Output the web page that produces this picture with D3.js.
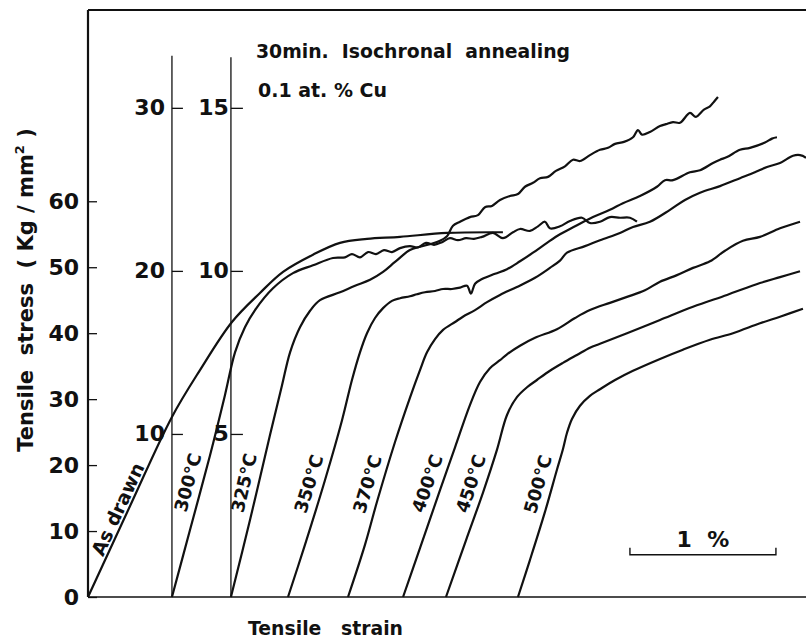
<!DOCTYPE html>
<html><head><meta charset="utf-8">
<script src="https://cdn.jsdelivr.net/npm/d3@7"></script>
<style>
html,body{margin:0;padding:0;background:#fff;}
text{font-family:"DejaVu Sans",sans-serif;fill:#111;white-space:pre;}
</style></head>
<body><svg id="chart" width="806" height="640"></svg>
<script>
// ---- data (strain in %, stress in kg/mm^2 on the main scale) ----
const curveNames = ["As drawn","300°C","325°C","350°C","370°C","400°C","450°C","500°C"];
const asDrawn = [[0,0],[0.288,13.8],[0.575,27.3],[0.767,34.4],[0.986,41.7],[1.178,46.1],[1.336,49.3],[1.541,51.9],[1.726,53.7],[1.911,54.3],[2.137,54.6],[2.459,55.2],[2.842,55.3]];
const c300 = [[0.575,0],[0.699,10.2],[0.836,21.5],[0.938,30.6],[1.007,37.1],[1.075,40.9],[1.144,43.5],[1.267,46.8],[1.404,49.1],[1.541,50.3],[1.678,51.4],[1.760,51.5],[1.808,52.0],[1.863,51.5],[1.918,52.3],[1.973,52.0],[2.027,52.6],[2.082,52.3],[2.137,52.9],[2.205,53.2],[2.260,53.0],[2.315,53.7],[2.370,53.4],[2.425,53.8],[2.479,54.4],[2.534,54.1],[2.589,54.4],[2.644,54.3],[2.699,54.6],[2.774,55.2],[2.842,54.4],[2.911,55.3],[2.959,55.8],[3.027,55.5],[3.082,56.2],[3.130,56.9],[3.164,55.9],[3.233,56.2],[3.301,57.0],[3.384,57.5],[3.438,56.7],[3.507,56.9],[3.575,57.6],[3.644,57.5],[3.712,57.5],[3.760,56.9]];
const c325 = [[0.979,0],[1.110,11.7],[1.247,24.6],[1.329,32.1],[1.384,37.1],[1.452,40.9],[1.521,43.4],[1.589,45.0],[1.726,46.2],[1.829,47.2],[1.932,48.1],[2.021,49.3],[2.103,50.8],[2.205,52.6],[2.274,53.1],[2.342,53.5],[2.411,54.0],[2.459,54.7],[2.500,56.3],[2.548,56.9],[2.616,57.6],[2.671,57.9],[2.719,59.1],[2.767,59.3],[2.822,60.2],[2.890,60.8],[2.945,61.1],[2.993,62.2],[3.048,62.8],[3.096,63.5],[3.151,63.7],[3.205,64.6],[3.267,65.3],[3.322,66.3],[3.370,66.1],[3.438,67.0],[3.507,67.8],[3.562,68.1],[3.610,68.7],[3.671,69.0],[3.733,69.7],[3.767,70.8],[3.795,70.1],[3.849,70.5],[3.918,71.4],[3.959,71.7],[4.007,72.0],[4.055,71.9],[4.123,73.4],[4.164,72.8],[4.219,73.9],[4.260,74.4],[4.288,75.1],[4.315,75.8]];
const c350 = [[1.370,0],[1.486,7.9],[1.623,17.7],[1.740,26.8],[1.808,32.9],[1.863,37.1],[1.911,40.0],[1.966,42.3],[2.021,43.8],[2.082,44.9],[2.137,45.3],[2.205,45.6],[2.253,45.9],[2.308,46.2],[2.377,46.4],[2.432,46.7],[2.493,46.7],[2.548,46.9],[2.596,47.2],[2.623,46.0],[2.651,47.5],[2.699,48.2],[2.788,49.0],[2.870,49.7],[2.959,50.9],[3.048,52.2],[3.144,53.7],[3.233,55.0],[3.336,56.2],[3.459,57.6],[3.575,58.7],[3.664,59.7],[3.781,60.8],[3.897,62.2],[3.952,63.2],[4.007,63.2],[4.123,64.4],[4.192,64.7],[4.281,65.8],[4.329,66.3],[4.377,66.7],[4.466,67.8],[4.534,68.1],[4.637,68.9],[4.685,69.5],[4.719,69.7]];
const c370 = [[1.781,0],[1.897,7.9],[1.979,14.4],[2.103,23.5],[2.205,30.2],[2.274,34.4],[2.322,37.1],[2.377,39.1],[2.432,40.5],[2.514,41.7],[2.568,42.5],[2.651,43.5],[2.733,44.7],[2.822,45.8],[2.938,47.0],[3.062,48.4],[3.164,49.9],[3.233,51.0],[3.281,52.2],[3.404,53.2],[3.507,54.1],[3.644,55.2],[3.733,56.1],[3.849,56.9],[3.986,58.7],[4.089,60.2],[4.192,61.3],[4.329,62.3],[4.466,63.5],[4.568,64.4],[4.651,65.2],[4.740,65.8],[4.829,66.9],[4.877,67.0],[4.918,66.6]];
const c400 = [[2.158,0],[2.274,7.4],[2.411,16.2],[2.514,22.7],[2.616,29.1],[2.685,32.6],[2.753,34.7],[2.822,35.9],[2.870,36.8],[2.959,38.1],[3.062,39.3],[3.212,40.6],[3.336,42.3],[3.438,43.5],[3.575,44.6],[3.692,45.5],[3.815,46.5],[3.918,47.8],[4.034,48.8],[4.144,49.9],[4.260,50.9],[4.363,52.5],[4.486,54.0],[4.603,54.6],[4.740,55.9],[4.877,56.9]];
const c450 = [[2.452,0],[2.589,8.6],[2.705,15.8],[2.801,22.3],[2.870,27.6],[2.938,30.3],[3.007,31.8],[3.075,32.9],[3.164,34.3],[3.253,35.5],[3.349,36.7],[3.438,37.8],[3.507,38.4],[3.692,40.0],[3.918,42.0],[4.144,44.0],[4.377,45.8],[4.603,47.6],[4.740,48.5],[4.877,49.4]];
const c500 = [[2.945,0],[3.027,5.6],[3.130,12.9],[3.212,19.3],[3.253,22.4],[3.281,24.9],[3.315,27.0],[3.370,29.0],[3.438,30.5],[3.507,31.5],[3.610,32.9],[3.733,34.3],[3.918,36.1],[4.075,37.5],[4.260,39.0],[4.418,40.0],[4.603,41.5],[4.740,42.5],[4.897,43.7]];
const curves = [asDrawn,c300,c325,c350,c370,c400,c450,c500];
const labelStress = [12.7,16.8,16.8,16.5,16.5,16.5,16.5,16.5];
const mainTicks = [0,10,20,30,40,50,60];
const ticks300 = [10,20,30];
const ticks325 = [5,10,15];

// ---- chart ----
const svg = d3.select("#chart");
const W = 806, H = 640;
const m = {left:88, top:10, right:0, bottom:43};
const x = d3.scaleLinear().domain([0,4.918]).range([m.left, W-m.right]);
const y = d3.scaleLinear().domain([0,89]).range([H-m.bottom, m.top]);
const y300 = d3.scaleLinear().domain([0,36]).range([H-m.bottom, m.top]);
const y325 = d3.scaleLinear().domain([0,18]).range([H-m.bottom, m.top]);

// frame
svg.append("line").attr("x1",x(0)).attr("x2",x(4.918)).attr("y1",y(89)).attr("y2",y(89)).attr("stroke","#111").attr("stroke-width",2.2);
svg.append("line").attr("x1",x(0)).attr("x2",x(4.918)).attr("y1",y(0)).attr("y2",y(0)).attr("stroke","#111").attr("stroke-width",1.6);
svg.append("line").attr("x1",x(0)).attr("x2",x(0)).attr("y1",y(0)).attr("y2",y(89)).attr("stroke","#111").attr("stroke-width",2.2);

function styleAxis(g){
  g.select(".domain").remove();
  g.selectAll(".tick line").attr("stroke","#111").attr("stroke-width",1.3);
  g.selectAll(".tick text").attr("font-size",22).attr("font-weight","bold").attr("fill","#111").attr("font-family","DejaVu Sans");
}
// main stress axis
svg.append("g").attr("transform",`translate(${x(0)},0)`)
  .call(d3.axisLeft(y).tickValues(mainTicks).tickSize(-9).tickPadding(9).tickFormat(d3.format("d")))
  .call(styleAxis);

// secondary axes at the start of the 300°C and 325°C curves
const ax2 = x(c300[0][0]), ax3 = x(c325[0][0]);
svg.append("line").attr("x1",ax2).attr("x2",ax2).attr("y1",y300(0)).attr("y2",y300(33.2)).attr("stroke","#111").attr("stroke-width",1.3);
svg.append("g").attr("transform",`translate(${ax2},0)`)
  .call(d3.axisLeft(y300).tickValues(ticks300).tickSize(-11).tickPadding(7).tickFormat(d3.format("d")))
  .call(styleAxis);
svg.append("line").attr("x1",ax3).attr("x2",ax3).attr("y1",y325(0)).attr("y2",y325(16.55)).attr("stroke","#111").attr("stroke-width",1.3);
svg.append("g").attr("transform",`translate(${ax3},0)`)
  .call(d3.axisLeft(y325).tickValues(ticks325).tickSize(-12).tickPadding(2).tickFormat(d3.format("d")))
  .call(styleAxis);

// curves
const line = d3.line().x(d=>x(d[0])).y(d=>y(d[1])).curve(d3.curveCatmullRom.alpha(0.5));
svg.append("g").selectAll("path").data(curves).join("path")
  .attr("d",line).attr("fill","none").attr("stroke","#111").attr("stroke-width",2.2).attr("stroke-linejoin","round");

// labels along the elastic parts
function atStress(c, s){
  for(let i=1;i<c.length;i++){
    if(c[i][1]>=s){
      const a=c[i-1], b=c[i], t=(s-a[1])/(b[1]-a[1]);
      return {px:x(a[0]+t*(b[0]-a[0])), py:y(s), ang:Math.atan2(y(b[1])-y(a[1]), x(b[0])-x(a[0]))*180/Math.PI};
    }
  }
}
curves.forEach((c,i)=>{
  const p = atStress(c,labelStress[i]);
  svg.append("text").attr("transform",`translate(${p.px},${p.py}) rotate(${p.ang})`)
    .attr("x",0).attr("y",i===0?-3:-8).attr("text-anchor","middle")
    .attr("font-size",i===0?19:18).attr("font-weight","bold").text(curveNames[i]);
});

// titles
svg.append("text").attr("x",256).attr("y",58).attr("font-size",20).attr("font-weight","bold").attr("textLength",314).attr("lengthAdjust","spacingAndGlyphs").text("30min.  Isochronal  annealing");
svg.append("text").attr("x",258).attr("y",97).attr("font-size",20).attr("font-weight","bold").attr("textLength",129).attr("lengthAdjust","spacingAndGlyphs").text("0.1 at. % Cu");

// axis titles
svg.append("text").attr("x",248).attr("y",635).attr("font-size",20).attr("font-weight","bold").attr("textLength",155).attr("lengthAdjust","spacingAndGlyphs").text("Tensile   strain");
const yt = svg.append("text").attr("transform","translate(33,290) rotate(-90)").attr("text-anchor","middle").attr("font-size",21).attr("font-weight","bold");
yt.append("tspan").text("Tensile  stress  ( Kg / mm");
yt.append("tspan").attr("font-size",13).attr("dy",-9).text("2");
yt.append("tspan").attr("dy",9).text(" )");

// 1 % scale bar
const sb0 = 3.712, sbY = 6.4;
svg.append("path").attr("d",`M${x(sb0)},${y(sbY)-7}V${y(sbY)}H${x(sb0+1)}V${y(sbY)-7}`).attr("fill","none").attr("stroke","#111").attr("stroke-width",1.4);
svg.append("text").attr("x",(x(sb0)+x(sb0+1))/2).attr("y",y(sbY)-8).attr("text-anchor","middle").attr("font-size",22).attr("font-weight","bold").text("1  %");
</script></body></html>
